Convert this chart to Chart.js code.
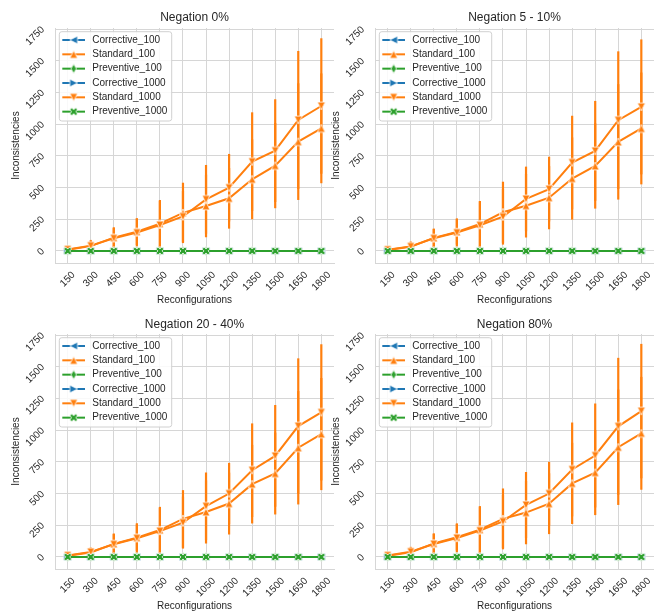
<!DOCTYPE html>
<html>
<head>
<meta charset="utf-8">
<script src="https://cdn.jsdelivr.net/npm/chart.js@4.4.0/dist/chart.umd.min.js"></script>
<style>
  html, body { margin: 0; padding: 0; background: #fff; }
  body { width: 654px; height: 611px; position: relative; overflow: hidden; }
  canvas { position: absolute; }
</style>
</head>
<body>
<canvas id="panel0" width="340" height="306" style="left:0px;top:0px"></canvas>
<canvas id="panel1" width="340" height="306" style="left:320px;top:0px"></canvas>
<canvas id="panel2" width="340" height="306" style="left:0px;top:306px"></canvas>
<canvas id="panel3" width="340" height="306" style="left:320px;top:306px"></canvas>
<script>
// x categories and y ticks
const reconfigs = [150, 300, 450, 600, 750, 900, 1050, 1200, 1350, 1500, 1650, 1800];
const yTicks = [0, 250, 500, 750, 1000, 1250, 1500, 1750];

// Corrective / Preventive stay at zero everywhere
const corrective = [0, 0, 0, 0, 0, 0, 0, 0, 0, 0, 0, 0];
const preventive = [0, 0, 0, 0, 0, 0, 0, 0, 0, 0, 0, 0];

// Negation 0%
const std100_neg0 = [10, 38, 105, 152, 215, 300, 355, 415, 565, 673, 862, 967];
const err100_neg0 = [15, 35, 82, 106, 187, 238, 247, 239, 315, 336, 460, 433];
const std1000_neg0 = [12, 42, 100, 145, 205, 272, 407, 499, 704, 791, 1033, 1143];
const err1000_neg0 = [28, 45, 80, 111, 190, 200, 271, 266, 389, 405, 544, 534];

// Negation 5 - 10%
const std100_neg5 = [8, 33, 103, 150, 212, 305, 357, 420, 571, 670, 860, 966];
const err100_neg5 = [15, 30, 72, 100, 182, 241, 251, 249, 324, 336, 455, 441];
const std1000_neg5 = [10, 36, 100, 145, 203, 270, 410, 488, 697, 789, 1031, 1136];
const err1000_neg5 = [22, 39, 75, 112, 188, 220, 255, 255, 369, 394, 543, 532];

// Negation 20 - 40%
const std100_neg20 = [10, 35, 103, 152, 212, 300, 355, 421, 574, 658, 861, 969];
const err100_neg20 = [15, 32, 82, 104, 183, 227, 249, 244, 310, 323, 447, 442];
const std1000_neg20 = [12, 40, 100, 148, 204, 271, 400, 500, 684, 797, 1032, 1140];
const err1000_neg20 = [22, 35, 80, 118, 184, 205, 266, 242, 369, 401, 534, 537];

// Negation 80%
const std100_neg80 = [10, 36, 106, 155, 215, 300, 350, 420, 580, 665, 865, 975];
const err100_neg80 = [15, 32, 80, 105, 185, 240, 250, 240, 320, 335, 455, 445];
const std1000_neg80 = [12, 42, 102, 150, 208, 280, 410, 500, 690, 800, 1030, 1150];
const err1000_neg80 = [22, 38, 80, 115, 190, 210, 260, 250, 370, 410, 540, 530];

const BLUE = '#1f77b4';
const ORANGE = '#ff7f0e';
const GREEN = '#2ca02c';
const GRID = '#d6d6d6';
const TEXT = '#262626';
const FONT = '"Liberation Sans", Arial, sans-serif';

function tracePath(g, kind, r) {
    let pts;
    if (kind === '^') pts = [[0, -r], [-r, r], [r, r]];
    else if (kind === 'v') pts = [[0, r], [-r, -r], [r, -r]];
    else if (kind === '<') pts = [[-r, 0], [r, -r], [r, r]];
    else if (kind === '>') pts = [[r, 0], [-r, -r], [-r, r]];
    else if (kind === 'd') pts = [[0, -r * 1.2], [r * 0.7, 0], [0, r * 1.2], [-r * 0.7, 0]];
    else {
        const u = r / 2;
        pts = [[-1, -2], [0, -1], [1, -2], [2, -1], [1, 0], [2, 1], [1, 2], [0, 1], [-1, 2], [-2, 1], [-1, 0], [-2, -1]]
            .map(p => [p[0] * u, p[1] * u]);
    }
    g.beginPath();
    pts.forEach((p, i) => i ? g.lineTo(p[0], p[1]) : g.moveTo(p[0], p[1]));
    g.closePath();
}

function makeMarker(kind, color) {
    const c = document.createElement('canvas');
    c.width = 14; c.height = 14;
    const g = c.getContext('2d');
    g.translate(7, 7);
    tracePath(g, kind, 3.9);
    g.fillStyle = color;
    g.fill();
    g.strokeStyle = '#fff';
    g.lineWidth = 0.8;
    g.stroke();
    return c;
}

const legendItems = [
    { label: 'Corrective_100', color: BLUE, marker: makeMarker('<', BLUE) },
    { label: 'Standard_100', color: ORANGE, marker: makeMarker('^', ORANGE) },
    { label: 'Preventive_100', color: GREEN, marker: makeMarker('d', GREEN) },
    { label: 'Corrective_1000', color: BLUE, marker: makeMarker('>', BLUE) },
    { label: 'Standard_1000', color: ORANGE, marker: makeMarker('v', ORANGE) },
    { label: 'Preventive_1000', color: GREEN, marker: makeMarker('X', GREEN) }
];

const errorBarPlugin = {
    id: 'errorBars',
    beforeDatasetsDraw(chart) {
        const { ctx, chartArea: a, scales: { x, y } } = chart;
        ctx.save();
        ctx.beginPath();
        ctx.rect(a.left, a.top, a.width, a.height);
        ctx.clip();
        chart.data.datasets.forEach(ds => {
            if (!ds.errors) return;
            ctx.strokeStyle = ds.borderColor;
            ctx.lineWidth = 2.2;
            ds.data.forEach((pt, i) => {
                const e = ds.errors[i];
                const px = x.getPixelForValue(pt.x);
                ctx.beginPath();
                ctx.moveTo(px, y.getPixelForValue(pt.y - e));
                ctx.lineTo(px, y.getPixelForValue(pt.y + e));
                ctx.stroke();
            });
        });
        ctx.restore();
    }
};

const panelTextPlugin = {
    id: 'panelText',
    afterDraw(chart, args, opts) {
        const { ctx, chartArea: a, scales: { x, y } } = chart;
        const cx = (a.left + a.right) / 2;
        ctx.save();
        ctx.fillStyle = TEXT;
        ctx.font = '10px ' + FONT;

        // y tick labels, rotated 45deg
        ctx.textAlign = 'right';
        ctx.textBaseline = 'middle';
        yTicks.forEach(v => {
            ctx.save();
            ctx.translate(a.left - 12, y.getPixelForValue(v) - 1);
            ctx.rotate(-Math.PI / 4);
            ctx.fillText(String(v), 0, 0);
            ctx.restore();
        });

        // x tick labels, rotated 45deg, box centred under tick
        ctx.textAlign = 'center';
        reconfigs.forEach(v => {
            const w = ctx.measureText(String(v)).width;
            const half = (w + 11) * Math.SQRT1_2 / 2;
            ctx.save();
            ctx.translate(x.getPixelForValue(v), a.bottom + 6.5 + half);
            ctx.rotate(-Math.PI / 4);
            ctx.fillText(String(v), 0, 0);
            ctx.restore();
        });

        // axis labels
        ctx.fillText('Reconfigurations', cx, a.bottom + 37);
        ctx.save();
        ctx.translate(16, (a.top + a.bottom) / 2);
        ctx.rotate(-Math.PI / 2);
        ctx.fillText('Inconsistencies', 0, 0);
        ctx.restore();

        // title
        ctx.font = '12px ' + FONT;
        ctx.fillText(opts.title, cx, a.top + opts.titleOffset);

        // legend
        const lx = a.left + 4.3, ly = a.top + 3.7;
        ctx.beginPath();
        ctx.roundRect(lx, ly, 112.4, 89.3, 2.5);
        ctx.fillStyle = 'rgba(255,255,255,0.85)';
        ctx.fill();
        ctx.strokeStyle = '#d0d0d0';
        ctx.lineWidth = 1;
        ctx.stroke();
        ctx.font = '10px ' + FONT;
        ctx.textAlign = 'left';
        legendItems.forEach((it, i) => {
            const ry = a.top + 12 + i * 14.33;
            const hx = a.left + 7.3;
            ctx.strokeStyle = it.color;
            ctx.lineWidth = 2;
            ctx.beginPath();
            ctx.moveTo(hx, ry);
            ctx.lineTo(hx + 22.7, ry);
            ctx.stroke();
            ctx.drawImage(it.marker, hx + 11.35 - 7, ry - 7);
            ctx.fillStyle = TEXT;
            ctx.fillText(it.label, a.left + 37.3, ry);
        });
        ctx.restore();
    }
};

function series(label, values, color, marker, errors, idx) {
    return {
        label,
        data: reconfigs.map((x, i) => ({ x, y: values[i] })),
        borderColor: color,
        backgroundColor: color,
        borderWidth: 2,
        pointStyle: marker,
        pointRadius: 4,
        tension: 0,
        errors,
        order: 6 - idx
    };
}

function makePanel(canvasId, title, titleOffset, std100, err100, std1000, err1000) {
    const datasets = [
        series('Corrective_100', corrective, BLUE, legendItems[0].marker, null, 0),
        series('Standard_100', std100, ORANGE, legendItems[1].marker, err100, 1),
        series('Preventive_100', preventive, GREEN, legendItems[2].marker, null, 2),
        series('Corrective_1000', corrective, BLUE, legendItems[3].marker, null, 3),
        series('Standard_1000', std1000, ORANGE, legendItems[4].marker, err1000, 4),
        series('Preventive_1000', preventive, GREEN, legendItems[5].marker, null, 5)
    ];
    new Chart(document.getElementById(canvasId), {
        type: 'line',
        data: { datasets },
        options: {
            responsive: false,
            animation: false,
            events: [],
            layout: { padding: { left: 55, top: 28, right: 4, bottom: 43 } },
            plugins: {
                legend: { display: false },
                tooltip: { enabled: false },
                panelText: { title, titleOffset }
            },
            scales: {
                x: {
                    type: 'linear',
                    min: 67.5,
                    max: 1882.5,
                    afterBuildTicks: s => { s.ticks = reconfigs.map(v => ({ value: v })); },
                    afterFit: s => { s.height = 0; },
                    ticks: { display: false },
                    grid: { color: GRID, lineWidth: 1, drawTicks: false },
                    border: { display: true, color: GRID, width: 1 }
                },
                y: {
                    type: 'linear',
                    min: -95,
                    max: 1758,
                    afterBuildTicks: s => { s.ticks = yTicks.map(v => ({ value: v })); },
                    afterFit: s => { s.width = 0; },
                    ticks: { display: false },
                    grid: { color: GRID, lineWidth: 1, drawTicks: false },
                    border: { display: true, color: GRID, width: 1 }
                }
            }
        },
        plugins: [errorBarPlugin, panelTextPlugin]
    });
}

makePanel('panel0', 'Negation 0%', -10.5, std100_neg0, err100_neg0, std1000_neg0, err1000_neg0);
makePanel('panel1', 'Negation 5 - 10%', -10.5, std100_neg5, err100_neg5, std1000_neg5, err1000_neg5);
makePanel('panel2', 'Negation 20 - 40%', -9, std100_neg20, err100_neg20, std1000_neg20, err1000_neg20);
makePanel('panel3', 'Negation 80%', -9, std100_neg80, err100_neg80, std1000_neg80, err1000_neg80);
</script>
</body>
</html>
